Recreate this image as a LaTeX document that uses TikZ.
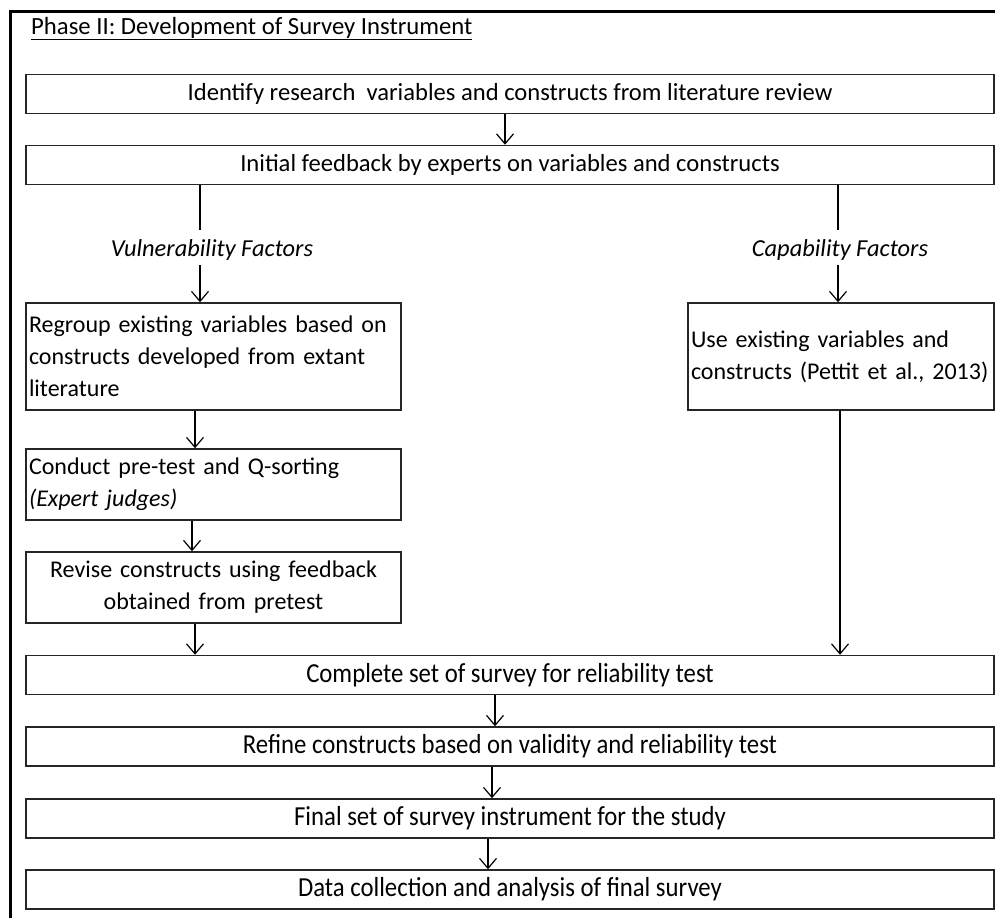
\documentclass[tikz,border=0pt]{standalone}
\usepackage{fontspec}
\setmainfont{Carlito}
\newfontfamily\narrowfont[FakeStretch=0.9]{Carlito}
\usetikzlibrary{arrows.meta}

\tikzset{
  stepbox/.style={draw=black!85, line width=1.5pt, inner xsep=3pt, inner ysep=5pt,
    font=\fontsize{24}{32}\selectfont},
  widebox/.style={stepbox, minimum width=968pt, minimum height=39pt, font=\fontsize{24.6}{32}\selectfont},
  narrowbox/.style={widebox, font=\narrowfont\fontsize{27.5}{30}\selectfont},
  arr/.style={-{Straight Barb[length=10pt,width=17pt,line width=1.2pt]}, line width=1.2pt},
  factor/.style={font=\fontsize{24.4}{28}\selectfont\itshape, inner sep=2pt}
}

\begin{document}
\begin{tikzpicture}[x=1pt,y=1pt]
        \useasboundingbox (0,0) rectangle (995,-918);
        % Frame
        \draw[line width=3pt] (10,-918) -- (10,-11) -- (995,-11);
        \node[anchor=base west, font=\fontsize{24.7}{28}\selectfont, inner sep=0pt] (title) at (31,-34)
          {\underline{Phase II: Development of Survey Instrument}};

        % Top boxes
        \node[widebox] (ident) at (510,-94) {Identify research\ \ variables and constructs from literature review};
        \node[widebox] (init) at (510,-165) {Initial feedback by experts on variables and constructs};

        % Factors
        \node[factor] (vul) at (212,-250) {Vulnerability Factors};
        \node[factor] (cap) at (840,-250) {Capability Factors};

        % Left branch
        \node[stepbox, minimum width=375pt, minimum height=107pt, text width=369pt, align=left] (regroup) at (213.5,-356.5)
          {Regroup existing variables based on\\constructs developed from extant\\literature};
        \node[stepbox, minimum width=375pt, minimum height=71pt, text width=369pt, align=left] (pretest) at (213.5,-484.5)
          {Conduct pre-test and Q-sorting\\\textit{(Expert judges)}};
        \node[stepbox, minimum width=375pt, minimum height=71pt, text width=369pt, align=center] (revise) at (213.5,-587.5)
          {Revise constructs using feedback\\obtained from pretest};

        % Right branch
        \node[stepbox, minimum width=306pt, minimum height=107pt, text width=300pt, align=left] (use) at (841,-356.5)
          {Use existing variables and\\constructs (Pettit et al., 2013)};

        % Bottom boxes
        \node[narrowbox] (complete) at (510,-675) {Complete set of survey for reliability test};
        \node[narrowbox] (refine) at (510,-746.5) {Refine constructs based on validity and reliability test};
        \node[narrowbox] (final) at (510,-818.5) {Final set of survey instrument for the study};
        \node[narrowbox] (data) at (510,-889.5) {Data collection and analysis of final survey};

        % Arrows
        \draw[arr] ([xshift=-5pt]ident.south) -- ([xshift=-5pt]init.south |- init.north);
        \draw[line width=1.2pt] (init.south -| 200,0) -- (200,-230);
        \draw[arr] (200,-265) -- (regroup.north -| 200,0);
        \draw[line width=1.2pt] (init.south -| 838,0) -- (838,-230);
        \draw[arr] (838,-265) -- (use.north -| 838,0);
        \draw[arr] (regroup.south -| 195,0) -- (pretest.north -| 195,0);
        \draw[arr] (pretest.south -| 192,0) -- (revise.north -| 192,0);
        \draw[arr] (revise.south -| 195,0) -- (complete.north -| 195,0);
        \draw[arr] (use.south -| 840,0) -- (complete.north -| 840,0);
        \draw[arr] (complete.south -| 495,0) -- (refine.north -| 495,0);
        \draw[arr] (refine.south -| 492,0) -- (final.north -| 492,0);
        \draw[arr] (final.south -| 488,0) -- (data.north -| 488,0);

    \end{tikzpicture}
\end{document}
